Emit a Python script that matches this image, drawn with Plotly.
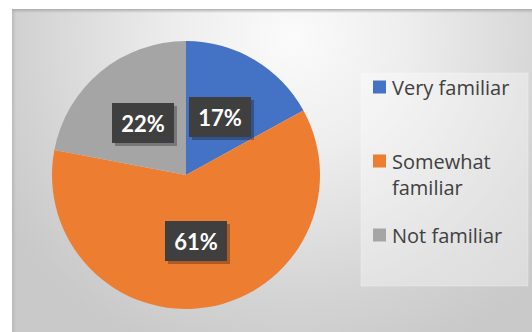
import base64
import math
import plotly.graph_objects as go

# Survey answers and their shares (percent)
labels = ["Very familiar", "Somewhat familiar", "Not familiar"]
legend_text = ["Very familiar", "Somewhat<br>familiar", "Not familiar"]
values = [17, 61, 22]
colors = ["#4472C4", "#ED7D31", "#A5A5A5"]

W, H = 532, 332

# Soft radial backdrop of the chart area
bg_svg = """<svg xmlns='http://www.w3.org/2000/svg' width='520' height='323' viewBox='0 0 520 323'>
<defs>
<radialGradient id='g' gradientUnits='userSpaceOnUse' cx='280' cy='28' r='340'>
<stop offset='0' stop-color='#fbfbfb'/>
<stop offset='0.35' stop-color='#ededed'/>
<stop offset='0.8' stop-color='#d2d2d2'/>
<stop offset='1' stop-color='#c9c9c9'/>
</radialGradient>
<linearGradient id='t' x1='0' y1='0' x2='0' y2='1'>
<stop offset='0' stop-color='#a8a8a8' stop-opacity='0.9'/>
<stop offset='1' stop-color='#a8a8a8' stop-opacity='0'/>
</linearGradient>
<linearGradient id='l' x1='0' y1='0' x2='1' y2='0'>
<stop offset='0' stop-color='#b0b0b0' stop-opacity='0.7'/>
<stop offset='1' stop-color='#b0b0b0' stop-opacity='0'/>
</linearGradient>
</defs>
<rect width='520' height='323' fill='url(#g)'/>
<rect width='520' height='4' fill='url(#t)'/>
<rect width='4' height='323' fill='url(#l)'/>
</svg>"""
bg_uri = "data:image/svg+xml;base64," + base64.b64encode(bg_svg.encode()).decode()

# Pie geometry in pixels
cx, cy, r = 186, 175, 134

fig = go.Figure(
    go.Pie(
        labels=labels,
        values=values,
        sort=False,
        direction="clockwise",
        rotation=0,
        marker=dict(colors=colors, line=dict(width=0)),
        textinfo="none",
        hoverinfo="label+percent",
        showlegend=False,
        domain=dict(
            x=[(cx - r) / W, (cx + r) / W],
            y=[1 - (cy + r) / H, 1 - (cy - r) / H],
        ),
    )
)

annotations = []
shapes = []

# Data labels: dark boxes placed halfway out along each slice's middle angle
total = sum(values)
cum = 0
for v in values:
    mid = (cum + v / 2) / total * 2 * math.pi
    cum += v
    d = r * 0.5
    px = cx + d * math.sin(mid)
    py = cy - d * math.cos(mid)
    pct = f"{round(v / total * 100)}%"
    common = dict(
        xref="paper", yref="paper", x=px / W, y=1 - py / H,
        xanchor="center", yanchor="middle", showarrow=False,
        width=56, height=34, borderpad=3, borderwidth=0,
    )
    annotations.append(dict(
        text="", bgcolor="rgba(0,0,0,0.28)", xshift=3, yshift=-3, **common
    ))
    annotations.append(dict(
        text=f"<b>{pct}</b>", bgcolor="#3f3f3f",
        font=dict(family="Lato", size=22, color="white"), **common
    ))

# Legend panel
shapes.append(dict(
    type="rect", xref="paper", yref="paper", layer="below",
    x0=361 / W, x1=528 / W, y0=1 - 286 / H, y1=1 - 73 / H,
    fillcolor="rgba(255,255,255,0.35)", line=dict(color="rgba(255,255,255,0.25)", width=1),
))

legend_y = [87, 161, 235]
for name, col, ly in zip(legend_text, colors, legend_y):
    shapes.append(dict(
        type="rect", xref="paper", yref="paper",
        x0=373 / W, x1=386 / W, y0=1 - (ly + 6.5) / H, y1=1 - (ly - 6.5) / H,
        fillcolor=col, line=dict(width=0),
    ))
    annotations.append(dict(
        xref="paper", yref="paper", x=390 / W, y=1 - (ly - 15) / H,
        xanchor="left", yanchor="top", align="left", showarrow=False,
        text=name, font=dict(family="Open Sans", size=20, color="#404040"),
    ))

fig.update_layout(
    width=W, height=H,
    margin=dict(l=0, r=0, t=0, b=0),
    paper_bgcolor="white",
    plot_bgcolor="rgba(0,0,0,0)",
    images=[dict(
        source=bg_uri, xref="paper", yref="paper",
        x=12 / W, y=1 - 9 / H, sizex=520 / W, sizey=323 / H,
        xanchor="left", yanchor="top", sizing="stretch", layer="below",
    )],
    shapes=shapes,
    annotations=annotations,
)

fig.write_html("out.html")
